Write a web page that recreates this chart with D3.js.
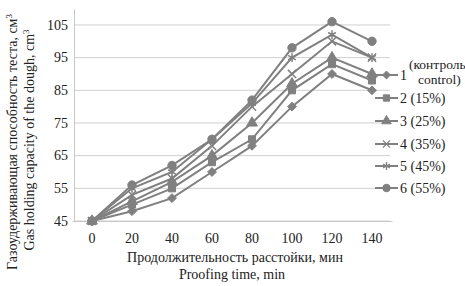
<!DOCTYPE html>
<html>
<head>
<meta charset="utf-8">
<script src="https://cdn.jsdelivr.net/npm/d3@7"></script>
<style>
  body { margin: 0; background: #fff; }
  svg text { font-family: "Times New Roman", "Liberation Serif", "DejaVu Serif", serif !important; fill: #222; }
</style>
</head>
<body>
<div class="chart"></div>
<script>
var svgWidth = 465;
var svgHeight = 286;

// data
var times = ["0", "20", "40", "60", "80", "100", "120", "140"];
var yTicks = [45, 55, 65, 75, 85, 95, 105];
var seriesNames = ["1", "2 (15%)", "3 (25%)", "4 (35%)", "5 (45%)", "6 (55%)"];
var s1 = [45, 48, 52, 60, 68, 80, 90, 85];
var s2 = [45, 50, 55, 63, 70, 85, 93, 88];
var s3 = [45, 51, 57, 65, 75, 87, 95, 90];
var s4 = [45, 53, 58, 68, 80, 90, 100, 95];
var s5 = [45, 55, 60, 70, 81, 95, 102, 95];
var s6 = [45, 56, 62, 70, 82, 98, 106, 100];
var allSeries = [s1, s2, s3, s4, s5, s6];

var symbols = [d3.symbolDiamond2, d3.symbolSquare, d3.symbolTriangle, d3.symbolTimes, d3.symbolAsterisk, d3.symbolCircle];
var symSize = [50, 50, 50, 45, 55, 55];
var filled = [true, true, true, false, false, true];
var grey = "#808080";

var plot = { left: 74, right: 392, top: 8.6, bottom: 221 };

var svg = d3.select(".chart")
  .append("svg")
  .attr("width", svgWidth)
  .attr("height", svgHeight);

var xScale = d3.scaleBand()
  .domain(times)
  .range([plot.left - 2, plot.right]);

var yScale = d3.scaleLinear()
  .domain([45, 110])
  .range([plot.bottom, plot.top]);

// gridlines
svg.append("g")
  .selectAll("line")
  .data(yTicks)
  .enter().append("line")
    .attr("x1", plot.left)
    .attr("x2", plot.right - 2)
    .attr("y1", function(d) { return yScale(d); })
    .attr("y2", function(d) { return yScale(d); })
    .style("stroke", "#d0d0d0")
    .style("stroke-width", 1);

// y axis
var leftAxis = d3.axisLeft(yScale).tickValues(yTicks).tickSize(0).tickPadding(6);
var gy = svg.append("g")
  .attr("transform", "translate(" + plot.left + ",0)")
  .call(leftAxis);
gy.attr("font-family", null);
gy.select(".domain").style("stroke", "#c8c8c8");
gy.selectAll("text").style("font-size", "14px").attr("dy", "0.3em").style("fill", "#222");

// x axis
var bottomAxis = d3.axisBottom(xScale).tickSize(0).tickPadding(12);
var gx = svg.append("g")
  .attr("transform", "translate(0," + plot.bottom + ")")
  .call(bottomAxis);
gx.attr("font-family", null);
gx.select(".domain").style("stroke", "#c8c8c8");
gx.selectAll("text").style("font-size", "14px").style("fill", "#222");

var line = d3.line()
  .x(function(d, i) { return xScale(times[i]) + xScale.bandwidth() / 2; })
  .y(function(d) { return yScale(d); });

allSeries.forEach(function(s, k) {
  svg.append("path")
    .datum(s)
    .attr("d", line)
    .style("fill", "none")
    .style("stroke", grey)
    .style("stroke-width", 2);

  svg.append("g")
    .selectAll("path")
    .data(s)
    .enter().append("path")
      .attr("transform", function(d, i) {
        return "translate(" + (xScale(times[i]) + xScale.bandwidth() / 2) + "," + yScale(d) + ")";
      })
      .attr("d", d3.symbol().type(symbols[k]).size(symSize[k]))
      .style("fill", filled[k] ? grey : "none")
      .style("stroke", grey)
      .style("stroke-width", filled[k] ? 1 : 1.5);
});

// legend
var legendY = [75, 98, 121, 144, 166, 188];
var legend = svg.append("g");
seriesNames.forEach(function(name, k) {
  var g = legend.append("g").attr("transform", "translate(0," + legendY[k] + ")");
  g.append("line")
    .attr("x1", 375).attr("x2", 398)
    .style("stroke", grey).style("stroke-width", 2);
  g.append("path")
    .attr("transform", "translate(386.5,0)")
    .attr("d", d3.symbol().type(symbols[k]).size(symSize[k] * 0.8))
    .style("fill", filled[k] ? grey : "none")
    .style("stroke", grey)
    .style("stroke-width", filled[k] ? 1 : 1.3);
  g.append("text")
    .attr("x", 400).attr("y", 4.5)
    .style("font-size", "14px")
    .text(name);
});
legend.append("text").attr("x", 409).attr("y", 69).style("font-size", "13.5px").text("(контроль");
legend.append("text").attr("x", 418).attr("y", 84).style("font-size", "13.5px").text("control)");

// y axis titles
svg.append("text")
  .attr("transform", "translate(17," + 142 + ") rotate(-90)")
  .attr("text-anchor", "middle")
  .style("font-size", "14px")
  .html("Газоудерживающая способность теста, см<tspan dy='-5' font-size='9px'>3</tspan>");
svg.append("text")
  .attr("transform", "translate(34," + 140 + ") rotate(-90)")
  .attr("text-anchor", "middle")
  .style("font-size", "14px")
  .html("Gas holding capacity of the dough, cm<tspan dy='-5' font-size='9px'>3</tspan>");

// x axis titles
svg.append("text")
  .attr("x", 235).attr("y", 262)
  .attr("text-anchor", "middle")
  .style("font-size", "14px")
  .text("Продолжительность расстойки, мин");
svg.append("text")
  .attr("x", 232).attr("y", 279)
  .attr("text-anchor", "middle")
  .style("font-size", "14px")
  .text("Proofing time, min");
</script>
</body>
</html>
